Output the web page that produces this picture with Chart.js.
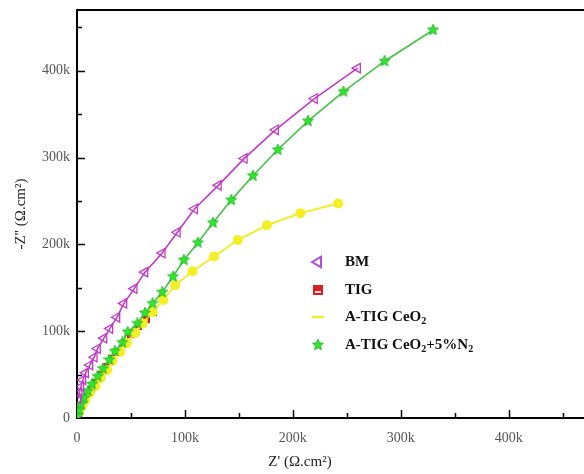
<!DOCTYPE html>
<html>
<head>
<meta charset="utf-8">
<script src="https://cdn.jsdelivr.net/npm/chart.js@4/dist/chart.umd.min.js"></script>
<style>
  html, body { margin: 0; padding: 0; background: #fff; }
  /* the plot runs off the right edge, as in the original figure */
  #wrap { width: 584px; height: 474px; overflow: hidden; }
</style>
</head>
<body>
<div id="wrap"><canvas id="c" width="591" height="474"></canvas></div>
<script>
// values in k(Ohm.cm2)
const seriesNames = ["BM", "TIG", "A-TIG CeO₂", "A-TIG CeO₂+5%N₂"];

const bmZr = [1, 2, 3.7, 5.5, 8, 12, 16, 19, 25, 30.5, 37, 43.5, 53, 63, 79, 93, 109, 131, 155, 184, 220, 260];
const bmZi = [22, 29, 36, 44, 52, 61, 70, 80, 92, 103, 116, 132, 149, 168, 190, 214, 241, 268, 299, 332, 368, 403];

const tigZr = [1, 3, 6, 9, 13, 17, 22, 27, 32, 38, 44, 50, 57, 64, 71];
const tigZi = [5, 11, 18, 25, 33, 41, 50, 59, 68, 77, 87, 96, 105, 114, 121];

const ceZr = [2, 5, 8, 12, 17, 22, 28, 33, 40, 46, 54, 61, 70, 80, 91, 107, 127, 149, 176, 207, 242];
const ceZi = [7, 14, 21, 29, 37, 46, 55, 66, 76, 86, 98, 109, 122, 136, 153, 169, 186, 205, 222, 236, 247];

const ceNZr = [0.5, 2, 3.7, 6.5, 10, 14, 19, 24, 30, 35, 42, 47, 56, 63, 70, 79, 89, 99, 112, 126, 143, 163, 186, 214, 247, 285, 330];
const ceNZi = [3, 9, 16, 23, 31, 39, 48, 57, 67, 77, 87, 99, 109, 121, 132, 145, 163, 182, 202, 225, 251, 279, 309, 342, 376, 411, 447];

const tickValues = [0, 100, 200, 300, 400];
const minorValues = [50, 150, 250, 350, 450];
const axisMax = 470;
const xTitle = "Z' (Ω.cm²)";
const yTitle = "-Z'' (Ω.cm²)";

const toPoints = (xs, ys) => xs.map((x, i) => ({ x: x * 1000, y: ys[i] * 1000 }));
const kLabel = v => (v === 0 ? "0" : Math.round(v / 1000) + "k");
const setTicks = s => { s.ticks = tickValues.map(v => ({ value: v * 1000 })); };

// marker images
function starImage(size, fill, stroke) {
  const c = document.createElement("canvas");
  c.width = c.height = size;
  const g = c.getContext("2d");
  g.beginPath();
  for (let i = 0; i < 10; i++) {
    const r = i % 2 ? size * 0.22 : size * 0.48;
    const a = -Math.PI / 2 + (i * Math.PI) / 5;
    g.lineTo(size / 2 + r * Math.cos(a), size / 2 + r * Math.sin(a));
  }
  g.closePath();
  g.fillStyle = fill;
  g.fill();
  g.strokeStyle = stroke;
  g.lineWidth = 0.8;
  g.stroke();
  return c;
}

function tigImage(size) {
  const c = document.createElement("canvas");
  c.width = c.height = size;
  const g = c.getContext("2d");
  g.fillStyle = "#d82020";
  g.fillRect(0, 0, size, size);
  g.fillStyle = "#ffdede";
  g.fillRect(2, Math.round(size * 0.55), size - 4, 2);
  return c;
}

const starPt = starImage(12, "#2fe52f", "#22b022");
const tigPt = tigImage(7);
const tigLegend = tigImage(10);

// inner tick marks (major + minor), top frame line, x title
const innerTicks = {
  id: "innerTicks",
  afterDraw(chart) {
    const { ctx, chartArea: a, scales } = chart;
    ctx.save();
    ctx.strokeStyle = "#000";
    ctx.lineWidth = 1.5;
    const marks = tickValues.slice(1).map(v => [v, 8]).concat(minorValues.map(v => [v, 5]));
    marks.forEach(([v, len]) => {
      const px = Math.round(scales.x.getPixelForValue(v * 1000)) + 0.5;
      const py = Math.round(scales.y.getPixelForValue(v * 1000)) + 0.5;
      if (px < a.right) {
        ctx.beginPath();
        ctx.moveTo(px, a.bottom);
        ctx.lineTo(px, a.bottom - len);
        ctx.stroke();
      }
      if (py > a.top) {
        ctx.beginPath();
        ctx.moveTo(a.left, py);
        ctx.lineTo(a.left + len, py);
        ctx.stroke();
      }
    });
    ctx.lineWidth = 2;
    ctx.beginPath();
    ctx.moveTo(a.left, a.top);
    ctx.lineTo(chart.width, a.top);
    ctx.stroke();

    // x title sits left of the scale's middle in the original
    ctx.font = "15px 'Liberation Serif', serif";
    ctx.fillStyle = "#222";
    ctx.textAlign = "center";
    ctx.textBaseline = "middle";
    ctx.fillText(xTitle, 300, 462);
    ctx.restore();
  }
};

// legend inside the plot, with subscripts
const insideLegend = {
  id: "insideLegend",
  afterDatasetsDraw(chart) {
    const { ctx } = chart;
    const rows = [262, 290, 317, 345];
    ctx.save();
    chart.data.datasets.forEach((ds, i) => {
      const y = rows[i];
      const style = ds.legendStyle || ds.pointStyle;
      ctx.strokeStyle = ds.legendColor || ds.borderColor;
      ctx.fillStyle = ds.pointBackgroundColor;
      ctx.lineWidth = ds.legendStyle === "line" ? 2.5 : 2;
      Chart.helpers.drawPoint(ctx, {
        pointStyle: style,
        rotation: ds.pointRotation || 0,
        radius: ds.legendRadius || 5,
        borderWidth: ctx.lineWidth
      }, 318, y);

      let x = 345;
      const parts = ds.label.split("₂");
      ctx.fillStyle = "#111";
      ctx.textBaseline = "middle";
      ctx.textAlign = "left";
      parts.forEach((p, j) => {
        ctx.font = "bold 15px 'Liberation Serif', serif";
        ctx.fillText(p, x, y);
        x += ctx.measureText(p).width;
        if (j < parts.length - 1) {
          ctx.font = "bold 10px 'Liberation Serif', serif";
          ctx.fillText("2", x, y + 4);
          x += ctx.measureText("2").width;
        }
      });
    });
    ctx.restore();
  }
};

const tickFont = { family: "'Liberation Serif', serif", size: 14 };
const titleFont = { family: "'Liberation Serif', serif", size: 15 };

new Chart(document.getElementById("c"), {
  type: "line",
  data: {
    datasets: [
      {
        label: seriesNames[0],
        data: toPoints(bmZr, bmZi),
        borderColor: "#c23ac8",
        legendColor: "#b050e0",
        borderWidth: 1.6,
        pointStyle: "triangle",
        pointRotation: -90,
        pointRadius: 5.5,
        pointBorderWidth: 1.3,
        pointBackgroundColor: "rgba(255,255,255,0)",
        pointBorderColor: "#c23ac8",
        legendRadius: 6,
        order: 1
      },
      {
        label: seriesNames[1],
        data: toPoints(tigZr, tigZi),
        borderColor: "#c83020",
        borderWidth: 1,
        pointStyle: tigPt,
        legendStyle: tigLegend,
        pointBackgroundColor: "#d82020",
        order: 4
      },
      {
        label: seriesNames[2],
        data: toPoints(ceZr, ceZi),
        borderColor: "#f0ec2c",
        borderWidth: 2,
        pointStyle: "circle",
        pointRadius: 5,
        pointBorderWidth: 0,
        pointBackgroundColor: "#f3ef22",
        legendStyle: "line",
        legendRadius: 6,
        order: 3
      },
      {
        label: seriesNames[3],
        data: toPoints(ceNZr, ceNZi),
        borderColor: "#44c244",
        borderWidth: 1.6,
        pointStyle: starPt,
        pointBackgroundColor: "#2fe52f",
        order: 2
      }
    ]
  },
  options: {
    responsive: false,
    animation: false,
    layout: { padding: { top: 10, right: 0, left: 0, bottom: 0 } },
    elements: { line: { tension: 0 } },
    plugins: {
      legend: { display: false },
      tooltip: { enabled: false }
    },
    scales: {
      x: {
        type: "linear",
        min: 0,
        max: axisMax * 1000,
        afterBuildTicks: setTicks,
        afterFit: s => { s.height = 56; s.paddingLeft = 0; s.paddingRight = 0; },
        ticks: { callback: kLabel, font: tickFont, color: "#555", padding: 12, maxRotation: 0, autoSkip: false },
        grid: { drawOnChartArea: false, drawTicks: false },
        border: { color: "#000", width: 2 },
        title: { display: false }
      },
      y: {
        type: "linear",
        min: 0,
        max: axisMax * 1000,
        afterBuildTicks: setTicks,
        afterFit: s => { s.width = 77; s.paddingTop = 0; s.paddingBottom = 0; },
        ticks: { callback: kLabel, font: tickFont, color: "#555", padding: 7, autoSkip: false },
        grid: { drawOnChartArea: false, drawTicks: false },
        border: { color: "#000", width: 2 },
        title: { display: true, text: yTitle, font: titleFont, color: "#222", padding: { top: 12, bottom: 0 } }
      }
    }
  },
  plugins: [innerTicks, insideLegend]
});
</script>
</body>
</html>
